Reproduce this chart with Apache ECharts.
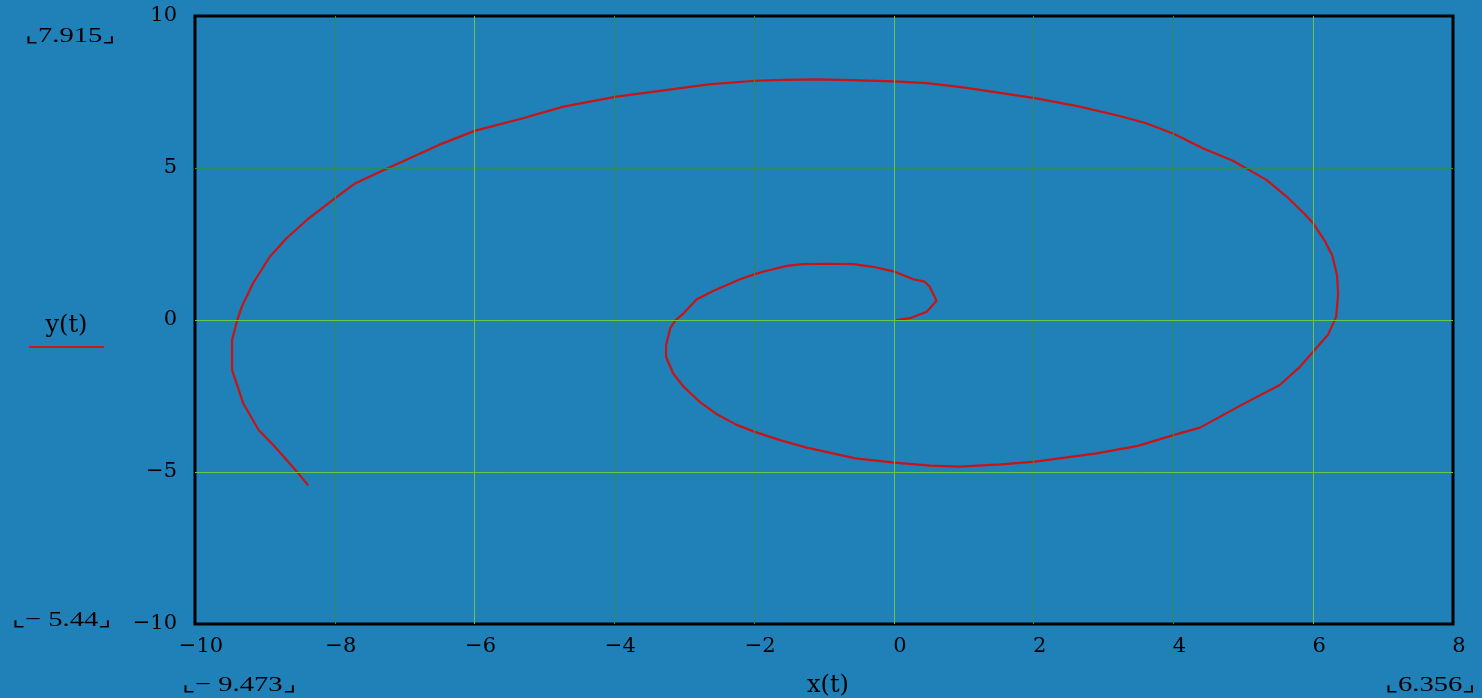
<!DOCTYPE html>
<html>
<head>
<meta charset="utf-8">
<script src="https://cdn.jsdelivr.net/npm/echarts@6/dist/echarts.min.js"></script>
<style>
html,body{margin:0;padding:0;background:#2080b8;}
#c{width:1482px;height:698px;}
</style>
</head>
<body>
<div id="c"></div>
<script>
// Curve samples (x(t), y(t))
const xVals = [0.03,0.23,0.47,0.61,0.51,0.44,0.28,0.01,-0.30,-0.58,-0.92,-1.30,-1.53,-1.82,-1.99,-2.20,-2.58,-2.82,-3.01,-3.13,-3.20,-3.26,-3.26,-3.16,-3.01,-2.78,-2.54,-2.25,-1.99,-1.63,-1.26,-0.55,0.01,0.52,0.94,1.53,2.02,2.90,3.49,4.01,4.38,4.97,5.52,5.81,6.02,6.21,6.33,6.356,6.34,6.27,6.16,6.00,5.88,5.62,5.33,5.05,4.85,4.42,4.01,3.61,3.23,2.66,2.02,1.47,0.99,0.47,0.00,-0.61,-1.11,-1.58,-1.99,-2.65,-3.24,-3.97,-4.73,-5.32,-5.99,-6.51,-7.22,-7.72,-7.99,-8.40,-8.69,-8.93,-9.17,-9.33,-9.40,-9.47,-9.47,-9.31,-9.09,-8.88,-8.54,-8.38];
const yVals = [0.00,0.06,0.27,0.63,1.10,1.26,1.34,1.59,1.75,1.84,1.85,1.84,1.78,1.62,1.51,1.34,0.96,0.68,0.22,-0.02,-0.27,-0.82,-1.21,-1.75,-2.19,-2.69,-3.09,-3.45,-3.68,-3.95,-4.19,-4.55,-4.69,-4.79,-4.82,-4.75,-4.66,-4.39,-4.14,-3.78,-3.54,-2.80,-2.14,-1.54,-0.99,-0.49,0.11,0.88,1.48,2.14,2.62,3.18,3.48,4.06,4.61,4.98,5.24,5.65,6.12,6.47,6.71,7.02,7.30,7.49,7.65,7.79,7.85,7.89,7.915,7.90,7.87,7.75,7.57,7.35,7.02,6.63,6.23,5.76,5.02,4.48,4.02,3.29,2.69,2.08,1.21,0.44,-0.04,-0.66,-1.64,-2.74,-3.62,-4.11,-4.99,-5.44];

// Axis settings and Mathcad-style range readouts
const xRange = {min: -10, max: 8, step: 2};
const yRange = {min: -10, max: 10, step: 5};
const xGridBright = [-6, 0, 6];
const xGridDark = [-8, -4, -2, 2, 4];
const yGridBright = [-5, 0];
const yGridDark = [5];
const rangeLabels = {yMax: '7.915', yMin: '− 5.44', xMin: '− 9.473', xMax: '6.356'};
const xName = 'x(t)';
const yName = 'y(t)';

const points = xVals.map((x, i) => [x, yVals[i]]);
const fmt = v => (v < 0 ? '\u2212' + Math.abs(v) : String(v));
const serif = 'DejaVu Serif';
const bright = '#6cc24a';
const dark = '#2f8a5a';

const gridSeries = (xs, ys, color) => ({
  type: 'line', data: [], silent: true, z: 1, color: color,
  markLine: {
    silent: true, symbol: ['none', 'none'], label: {show: false}, animation: false,
    lineStyle: {type: 'solid', width: 1, color: color},
    emphasis: {disabled: true},
    data: xs.map(v => ({xAxis: v})).concat(ys.map(v => ({yAxis: v})))
  }
});

const bracketText = (txt, x, y) => ({
  type: 'text', x: x, y: y, scaleX: 1.3,
  style: {text: '\u231e' + txt + '\u231f', fill: '#000', font: '22px "Liberation Serif"', align: 'left', verticalAlign: 'middle'}
});

const chart = echarts.init(document.getElementById('c'), null, {renderer: 'canvas'});
chart.setOption({
  backgroundColor: '#2080b8',
  animation: false,
  grid: {left: 195, right: 29, top: 16, bottom: 74, show: true, borderColor: '#000', borderWidth: 3,
         backgroundColor: 'transparent', containLabel: false, outerBoundsMode: 'none'},
  xAxis: {
    type: 'value', min: xRange.min, max: xRange.max, interval: xRange.step,
    axisLine: {show: false}, axisTick: {show: false}, splitLine: {show: false},
    axisLabel: {formatter: fmt, color: '#000', fontFamily: serif, fontSize: 21, margin: 12, padding: [0, 0, 0, 12]},
    name: xName, nameLocation: 'middle', nameGap: 50,
    nameTextStyle: {color: '#000', fontFamily: serif, fontSize: 24, padding: [0, 0, 0, 8]}
  },
  yAxis: {
    type: 'value', min: yRange.min, max: yRange.max, interval: yRange.step,
    axisLine: {show: false}, axisTick: {show: false}, splitLine: {show: false},
    axisLabel: {formatter: fmt, color: '#000', fontFamily: serif, fontSize: 21, margin: 18, padding: [10, 0, 0, 0]},
    name: '{t|' + yName + '}\n{u|}', nameLocation: 'middle', nameGap: 91, nameRotate: 0,
    nameTextStyle: {
      padding: [14, 0, 0, 0],
      rich: {
        t: {color: '#000', fontFamily: serif, fontSize: 24, lineHeight: 40, align: 'center'},
        u: {width: 75, height: 2, backgroundColor: '#c81a1a', align: 'center'}
      }
    }
  },
  graphic: [
    bracketText(rangeLabels.yMax, 25, 36),
    bracketText(rangeLabels.yMin, 12, 620),
    bracketText(rangeLabels.xMin, 182, 685),
    bracketText(rangeLabels.xMax, 1385, 685)
  ],
  series: [
    gridSeries(xGridDark, yGridDark, dark),
    gridSeries(xGridBright, yGridBright, bright),
    {
      type: 'line', data: points, showSymbol: false, smooth: false, z: 3,
      lineStyle: {color: '#c81414', width: 2.2}, clip: true
    }
  ]
});
</script>
</body>
</html>
